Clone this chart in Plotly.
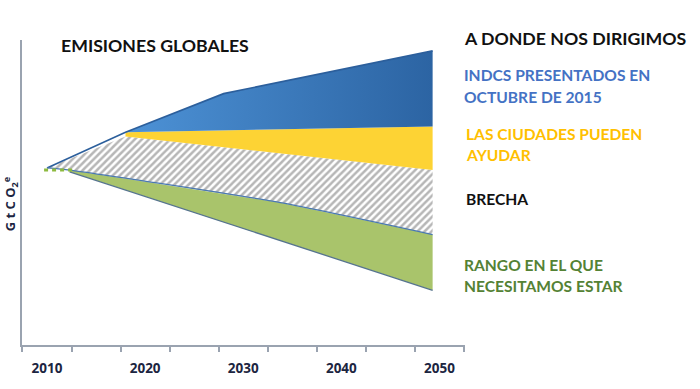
import plotly.graph_objects as go

# ---- data (GtCO2e-like arbitrary units) ----
blue_top_years = [2010, 2018, 2028, 2049.3]
blue_top = [50.5, 60.7, 71.7, 83.9]

split_years = [2018, 2049.3]
blue_bottom = [60.7, 62.3]      # = yellow top
yellow_bottom = [59.5, 49.9]    # = gap top

green_top_years = [2010, 2012.3, 2033.8, 2049.3]
green_top = [50.5, 49.9, 40.6, 31.5]

green_bottom_years = [2012.3, 2049.3]
green_bottom = [49.4, 15.6]

dash_years = [2009.7, 2012.6]
dash_vals = [49.9, 49.9]

tick_years = [2010, 2020, 2030, 2040, 2050]
tick_labels = ["2010", "2020", "2030", "2040", "2050"]

# ---- layout geometry ----
W, H = 700, 389
L, R, T, B = 22, 235, 40, 37
PW, PH = W - L - R, H - T - B

def px(x, y):
    return (x - L) / PW, (H - B - y) / PH

fig = go.Figure()

# gap (hatched)
gap_x = [green_top_years[0], split_years[0], split_years[1]] + green_top_years[::-1]
gap_y = [green_top[0], yellow_bottom[0], yellow_bottom[1]] + green_top[::-1]
fig.add_trace(go.Scatter(x=gap_x, y=gap_y, mode="lines", fill="toself",
                         line=dict(width=0), fillcolor="white",
                         fillpattern=dict(shape="/", fgcolor="#6e6e6e", bgcolor="white",
                                          size=5, solidity=0.5),
                         hoverinfo="skip"))

# green band
gx = green_top_years[1:] + green_bottom_years[::-1]
gy = green_top[1:] + green_bottom[::-1]
fig.add_trace(go.Scatter(x=gx, y=gy, mode="lines", fill="toself",
                         line=dict(width=0), fillcolor="#a9c46b", hoverinfo="skip"))

# yellow band
yx = split_years + split_years[::-1]
yy = blue_bottom + yellow_bottom[::-1]
fig.add_trace(go.Scatter(x=yx, y=yy, mode="lines", fill="toself",
                         line=dict(width=0), fillcolor="#fdd334", hoverinfo="skip"))

# blue band (gradient)
bx = blue_top_years[1:] + split_years[::-1]
by = blue_top[1:] + blue_bottom[::-1]
fig.add_trace(go.Scatter(x=bx, y=by, mode="lines", fill="toself",
                         line=dict(width=0),
                         fillgradient=dict(type="horizontal",
                                           colorscale=[[0, "#4d92d6"], [1, "#2c64a3"]]),
                         hoverinfo="skip"))

# edges
fig.add_trace(go.Scatter(x=blue_top_years, y=blue_top, mode="lines",
                         line=dict(color="#2c5f9c", width=1.6), hoverinfo="skip"))
fig.add_trace(go.Scatter(x=green_top_years, y=green_top, mode="lines",
                         line=dict(color="#4a78b0", width=1.2, shape="spline", smoothing=0.6),
                         hoverinfo="skip"))
fig.add_trace(go.Scatter(x=green_bottom_years, y=green_bottom, mode="lines",
                         line=dict(color="#56748f", width=1.3), hoverinfo="skip"))
fig.add_trace(go.Scatter(x=dash_years, y=dash_vals, mode="lines",
                         line=dict(color="#8dba3f", width=3, dash="4px,4px"),
                         hoverinfo="skip"))

axis_col = "#9aa3b0"
fig.update_layout(
    width=W, height=H, margin=dict(l=L, r=R, t=T, b=B),
    paper_bgcolor="white", plot_bgcolor="white", showlegend=False,
    xaxis=dict(range=[2007.45, 2052.6], showgrid=False, zeroline=False,
               showline=True, linecolor=axis_col, linewidth=2,
               tickvals=tick_years, ticktext=tick_labels, ticks="",
               ticklabelstandoff=10,
               tickfont=dict(family="Open Sans", size=13.5, color="#1c2541", weight="bold"),
               minor=dict(tick0=2012.5, dtick=5, ticks="outside", ticklen=5,
                          tickcolor=axis_col, tickwidth=1.5, showgrid=False)),
    yaxis=dict(range=[0, 87], showgrid=False, zeroline=False, showline=True,
               linecolor=axis_col, linewidth=2, showticklabels=False, ticks=""),
)

def label(text, x, y, size, color, family="Lato"):
    ax, ay = px(x, y)
    fig.add_annotation(x=ax, y=ay, xref="paper", yref="paper", text=text,
                       showarrow=False, xanchor="left", yanchor="middle",
                       font=dict(family=family, size=size, color=color, weight="bold"))

label("EMISIONES GLOBALES", 59, 46, 17.7, "#111111")
label("A DONDE NOS DIRIGIMOS", 462, 38.5, 17.7, "#111111")
label("INDCS PRESENTADOS EN", 462, 76, 15.6, "#4472c4")
label("OCTUBRE DE 2015", 462, 98, 15.6, "#4472c4")
label("LAS CIUDADES PUEDEN", 464, 136, 15.6, "#ffc000")
label("AYUDAR", 464, 158, 15.6, "#ffc000")
label("BRECHA", 464, 203, 15.6, "#111111")
label("RANGO EN EL QUE", 462, 270, 15.6, "#548235")
label("NECESITAMOS ESTAR", 462, 292, 15.6, "#548235")

ax, ay = px(10, 208)
fig.add_annotation(x=ax, y=ay, xref="paper", yref="paper",
                   text="G t C O<sub>2</sub><sup>e</sup>", textangle=-90,
                   showarrow=False, xanchor="center", yanchor="middle",
                   font=dict(family="Open Sans", size=13, color="#1c2541", weight="bold"))

fig.write_html("out.html", config={"displayModeBar": False},
               post_script="document.body.style.margin='0';document.body.style.overflow='hidden';")
